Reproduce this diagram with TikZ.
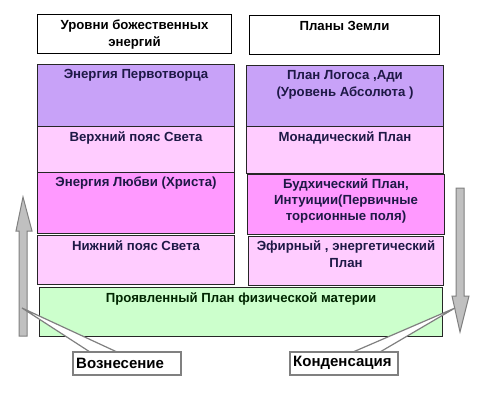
\documentclass[tikz,border=0pt]{standalone}
\usepackage{fontspec}
\setmainfont{Liberation Sans}
\definecolor{cpurple}{RGB}{200,162,248}
\definecolor{cpink}{RGB}{255,204,255}
\definecolor{cmag}{RGB}{255,153,255}
\definecolor{cgreen}{RGB}{204,255,204}
\definecolor{ctext}{RGB}{30,25,70}
\definecolor{carrow}{RGB}{192,192,192}
\definecolor{cagray}{RGB}{128,128,128}
\begin{document}
\begin{tikzpicture}[x=1pt,y=-1pt,
  box/.style={draw=black!85,line width=1pt,anchor=north west,inner sep=0pt},
  hdr/.style={draw=black,line width=1pt,fill=white,anchor=north west,inner sep=0pt},
  lbl/.style={anchor=north,inner sep=2pt,align=center,font=\fontsize{13.2}{17}\selectfont\bfseries,text=ctext},
  hlbl/.style={anchor=north,inner sep=2pt,align=center,font=\fontsize{13.2}{17}\selectfont\bfseries,text=black},
  bigarrow/.style={fill=carrow,draw=cagray,line width=1pt},
  callout/.style={draw=cagray,line width=1.5pt,fill=white,anchor=north west,inner sep=0pt},
  clbl/.style={anchor=west,inner sep=0pt,font=\fontsize{15}{17}\selectfont\bfseries,text=black}]
\useasboundingbox (0,0) rectangle (493,404);
\fill[white] (0,0) rectangle (493,404);
% headers
\node[hdr,minimum width=194,minimum height=39] (hl) at (37,14) {};
\node[hlbl] (hlt) at ([yshift=-4]hl.north) {Уровни божественных\\энергий};
\node[hdr,minimum width=190,minimum height=39] (hr) at (249,15) {};
\node[hlbl] (hrt) at ([yshift=-4]hr.north) {Планы Земли};
% left column
\node[box,fill=cpurple,minimum width=197,minimum height=62] (l1) at (37,64) {};
\node[lbl] (l1t) at ([yshift=-3]l1.north) {Энергия Первотворца};
\node[box,fill=cpink,minimum width=197,minimum height=46] (l2) at (37,126) {};
\node[lbl] (l2t) at ([yshift=-3]l2.north) {Верхний пояс Света};
\node[box,fill=cmag,minimum width=197,minimum height=61] (l3) at (37,172) {};
\node[lbl] (l3t) at ([yshift=-3]l3.north) {Энергия Любви (Христа)};
\node[box,fill=cpink,minimum width=197,minimum height=49] (l4) at (37,235) {};
\node[lbl] (l4t) at ([yshift=-3]l4.north) {Нижний пояс Света};
% right column
\node[box,fill=cpurple,minimum width=197,minimum height=61] (r1) at (246,65) {};
\node[lbl] (r1t) at ([yshift=-3]r1.north) {План Логоса ,Ади\\(Уровень Абсолюта )};
\node[box,fill=cpink,minimum width=197,minimum height=47] (r2) at (246,126) {};
\node[lbl] (r2t) at ([yshift=-3]r2.north) {Монадический План};
\node[box,fill=cmag,minimum width=197,minimum height=60] (r3) at (247,174) {};
\node[lbl,font=\fontsize{13.2}{16}\selectfont\bfseries] (r3t) at ([yshift=-2]r3.north) {Будхический План,\\Интуиции(Первичные\\торсионные поля)};
\node[box,fill=cpink,minimum width=195,minimum height=49] (r4) at (248,236) {};
\node[lbl] (r4t) at ([yshift=-2]r4.north) {Эфирный , энергетический\\План};
% green base
\node[box,fill=cgreen,minimum width=403,minimum height=49] (g) at (39,287) {};
\node[lbl,text=black!85!green] (gt) at ([yshift=-3]g.north) {Проявленный План физической материи};
% arrows
\draw[bigarrow] (19,336) -- (19,231) -- (16,231) -- (23,197) -- (32,231) -- (27,231) -- (27,336) -- cycle;
\draw[bigarrow] (456,188) -- (456,296) -- (452,296) -- (460,332) -- (469,296) -- (464,296) -- (464,188) -- cycle;
\coordinate (tipl) at (22,308);
\coordinate (tipr) at (455,308);
% callouts
\draw[draw=cagray,line width=1.2pt,fill=white] (tipl) -- (90,352) -- (117,352) -- cycle;
\node[callout,minimum width=108,minimum height=23] (cl) at (72,351) {};
\node[clbl] (clt) at ([xshift=4]cl.west) {Вознесение};
\draw[draw=cagray,line width=1.2pt,fill=white] (tipr) -- (353,352) -- (380,352) -- cycle;
\node[callout,minimum width=108,minimum height=23] (cr) at (289,351) {};
\node[clbl] (crt) at ([xshift=4]cr.west) {Конденсация};
\end{tikzpicture}
\end{document}
